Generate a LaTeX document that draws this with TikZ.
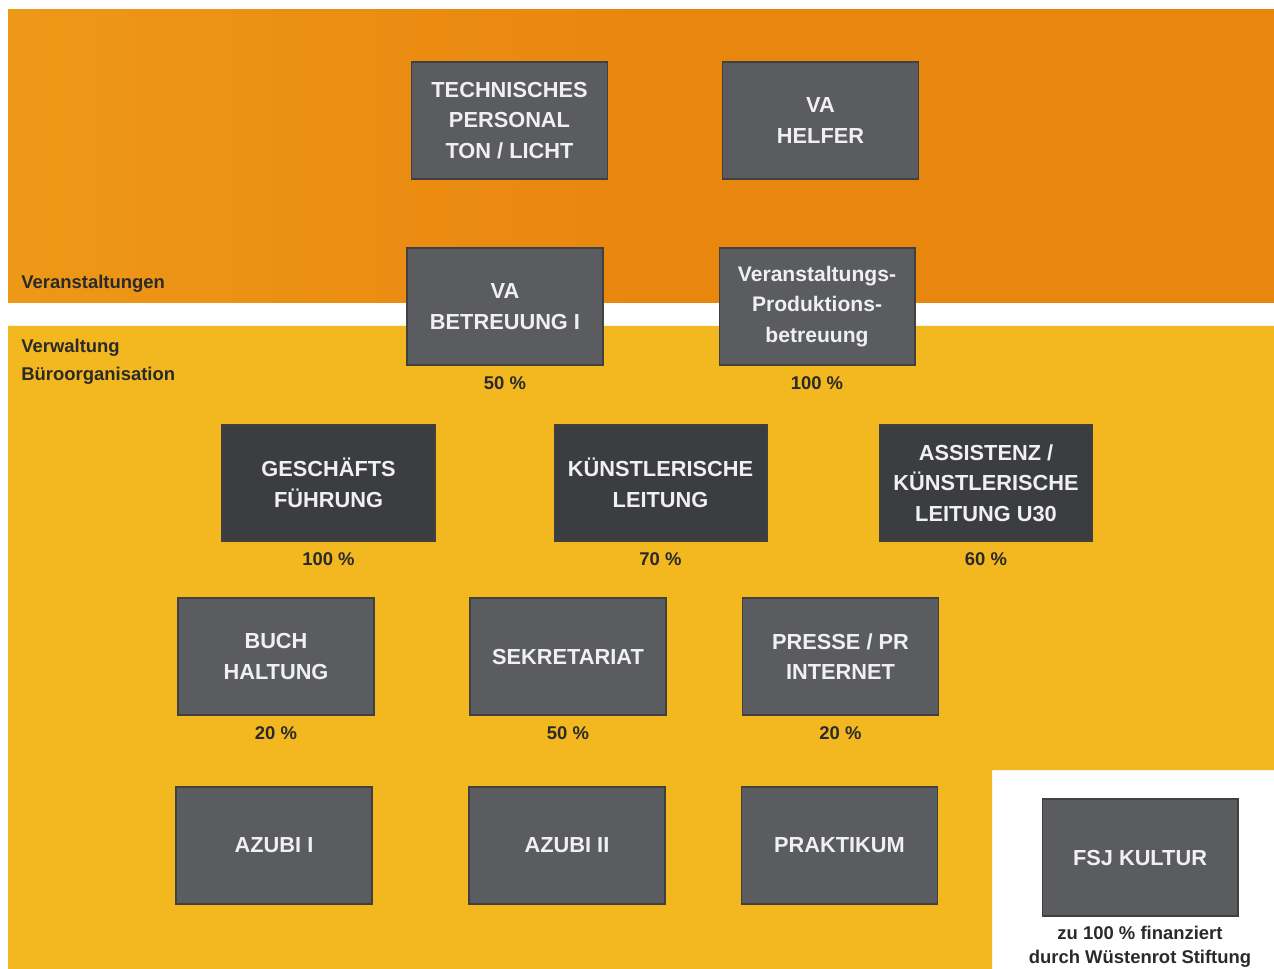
\documentclass[tikz,border=0pt]{standalone}
\usepackage{fontspec}
\setmainfont{Liberation Sans}
\usetikzlibrary{positioning}
\definecolor{vaorange}{HTML}{E9860E}
\definecolor{vaorangelight}{HTML}{EE9818}
\definecolor{vwyellow}{HTML}{F3B81F}
\definecolor{boxgray}{HTML}{5B5C60}
\definecolor{boxdark}{HTML}{3C3D40}
\definecolor{boxtext}{HTML}{F0F0F0}
\definecolor{labeltext}{HTML}{2A2A2A}

\begin{document}
\begin{tikzpicture}[x=0.02cm,y=-0.02cm,node distance=6pt,
  box node/.style={rectangle,fill=boxgray,draw=black!75,line width=0.6pt,
    minimum width=3.92cm,minimum height=2.34cm,align=center,text=boxtext,
    font=\bfseries\fontsize{12.4}{17.4}\selectfont},
  dark node/.style={box node,fill=boxdark,minimum width=4.26cm,minimum height=2.32cm},
  pct node/.style={inner sep=0pt,text=labeltext,font=\bfseries\fontsize{10.5}{14.2}\selectfont},
  area label/.style={anchor=base west,inner sep=0pt,text=labeltext,font=\bfseries\fontsize{10.5}{14.2}\selectfont}]

  \useasboundingbox (0,0) rectangle (1274,969);
  % areas
  \fill[left color=vaorangelight,right color=vaorange,middle color=vaorange] (8,10) rectangle (1274,303);
  \fill[vwyellow] (8,326) -- (1274,326) -- (1274,770) -- (992,770) -- (992,969) -- (8,969) -- cycle;
  \node[area label] (va) at (21,289) {Veranstaltungen};
  \node[area label] (vw) at (21,353) {Verwaltung};
  \node[area label] (bo) at (21,380) {Büroorganisation};

  % Veranstaltungen
  \node[box node] (0) at (509.5,120.5) {TECHNISCHES\\PERSONAL\\TON / LICHT};
  \node[box node] (1) at (820.5,120.5) {VA\\HELFER};
  \node[box node] (2) at (505,306.5) {VA\\BETREUUNG I};
  \node[box node,font=\bfseries\fontsize{12}{17.4}\selectfont] (3) at (817,306.5) {Veranstaltungs-\\Produktions-\\betreuung};
  \node[pct node] (2p) [below=of 2] {50 \%};
  \node[pct node] (3p) [below=of 3] {100 \%};

  % Verwaltung
  \node[dark node] (4) at (328.5,483) {GESCHÄFTS\\FÜHRUNG};
  \node[dark node] (5) at (660.5,483) {KÜNSTLERISCHE\\LEITUNG};
  \node[dark node] (6) at (986,483) {ASSISTENZ /\\KÜNSTLERISCHE\\LEITUNG U30};
  \node[pct node] (4p) [below=of 4] {100 \%};
  \node[pct node] (5p) [below=of 5] {70 \%};
  \node[pct node] (6p) [below=of 6] {60 \%};

  \node[box node] (7) at (276,656.5) {BUCH\\HALTUNG};
  \node[box node] (8) at (568,656.5) {SEKRETARIAT};
  \node[box node] (9) at (840.5,656.5) {PRESSE / PR\\INTERNET};
  \node[pct node] (7p) [below=of 7] {20 \%};
  \node[pct node] (8p) [below=of 8] {50 \%};
  \node[pct node] (9p) [below=of 9] {20 \%};

  \node[box node] (10) at (274,845.5) {AZUBI I};
  \node[box node] (11) at (567,845.5) {AZUBI II};
  \node[box node] (12) at (839.5,845.5) {PRAKTIKUM};

  % FSJ
  \node[box node] (13) at (1140,857.5) {FSJ KULTUR};
  \node[pct node,align=center] (13p) [below=5pt of 13] {zu 100 \% finanziert\\durch Wüstenrot Stiftung};
\end{tikzpicture}
\end{document}
